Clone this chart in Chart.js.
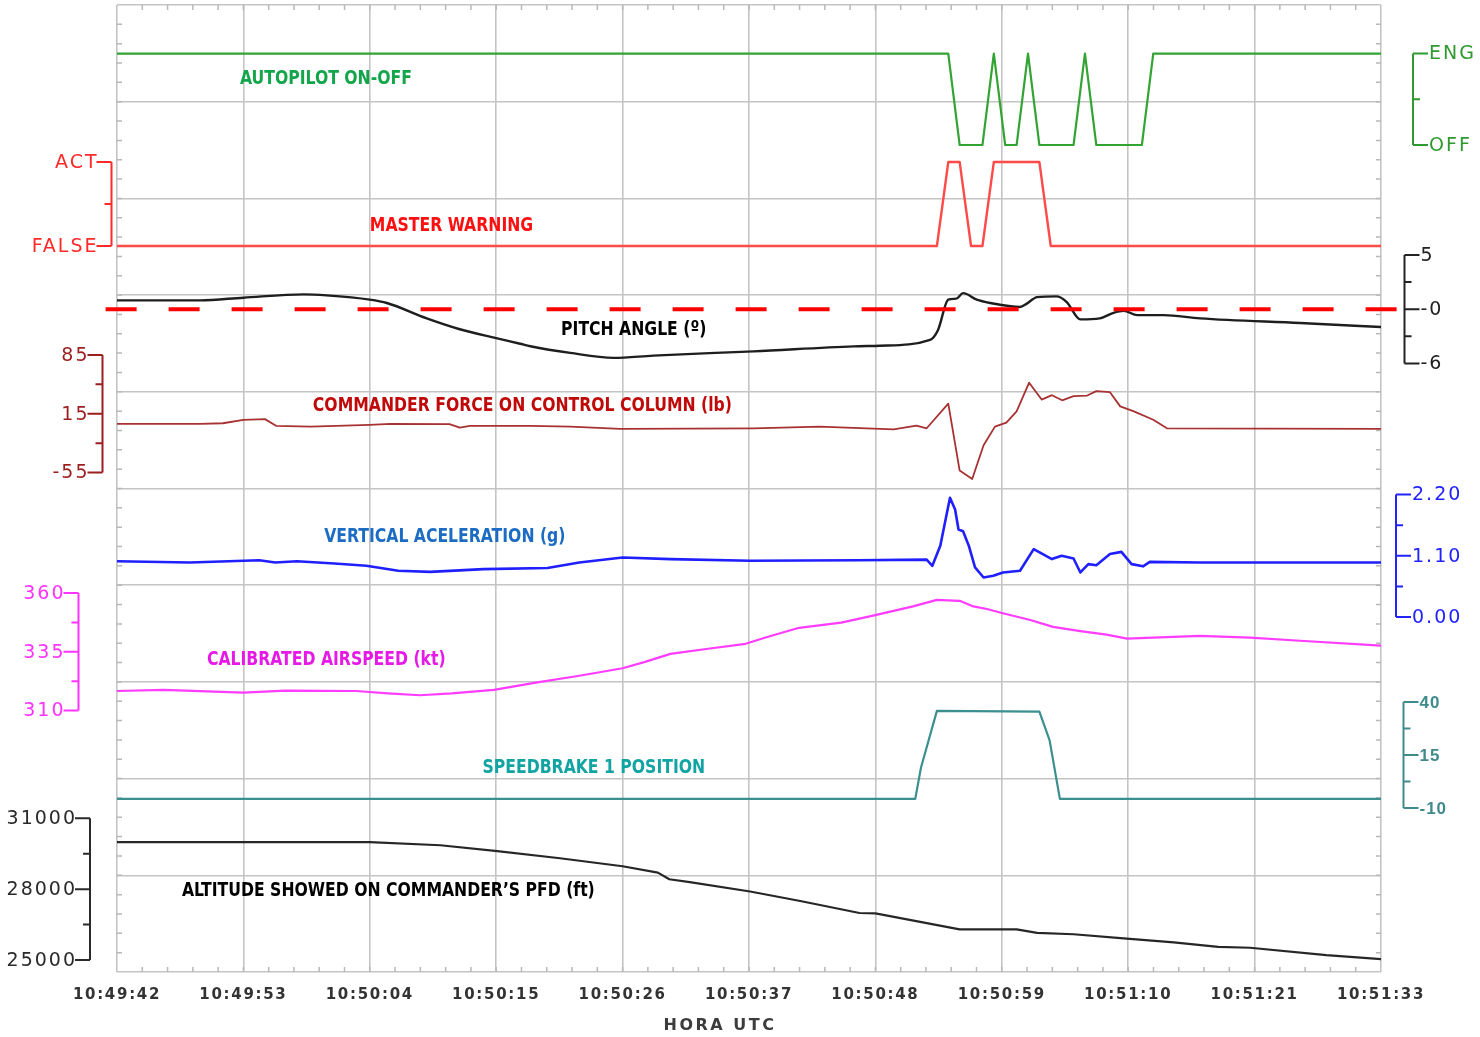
<!DOCTYPE html>
<html>
<head>
<meta charset="utf-8">
<title>Flight data</title>
<script src="https://cdn.jsdelivr.net/npm/chart.js@4.4.1/dist/chart.umd.min.js"></script>
<style>
  html, body { margin: 0; padding: 0; background: #fff; }
  #chart { display: block; }
</style>
</head>
<body>
<canvas id="chart" width="1480" height="1037"></canvas>
<script>
// time axis: seconds after 10:49:42, one grid step = 11.1 s
const xTickLabels = ['10:49:42', '10:49:53', '10:50:04', '10:50:15', '10:50:26', '10:50:37',
  '10:50:48', '10:50:59', '10:51:10', '10:51:21', '10:51:33'];
const gridStepSec = 11.1;

// autopilot: 1 = ENG, 0 = OFF
const autopilotSec = [0, 73, 74, 76, 77, 78, 79, 80, 81, 84, 85, 86, 90, 91, 111];
const autopilotVal = [1, 1, 0, 0, 1, 0, 0, 1, 0, 0, 1, 0, 0, 1, 1];

// master warning: 1 = ACT, 0 = FALSE
const warningSec = [0, 72, 73, 74, 75, 76, 77, 81, 82, 111];
const warningVal = [0, 0, 1, 1, 0, 0, 1, 1, 0, 0];

// pitch angle (deg)
const pitchSec = [0, 7.3, 11.1, 16.4, 18.4, 22.2, 23.7, 27.2, 30.1, 33.3, 35.4, 36.3, 39.8, 43.6, 47.1,
  55.9, 64.7, 67.0, 71.4, 72.1, 73.0, 73.7, 74.3, 75.5, 76.7, 79.3, 79.9, 80.8, 82.5, 83.4, 84.6,
  86.3, 87.5, 88.4, 89.6, 91.9, 95.1, 103.9, 111];
const pitchVal = [0.4, 0.4, 0.67, 1.0, 0.9, 0.47, 0.13, -1.43, -2.53, -3.43, -4.0, -4.25, -4.93, -5.43, -5.2,
  -4.77, -4.27, -4.2, -3.6, -2.6, 0.47, 0.57, 1.13, 0.47, 0.13, -0.27, 0.07, 0.73, 0.8, 0.23, -1.53,
  -1.43, -0.87, -0.67, -1.1, -1.1, -1.43, -1.9, -2.3];
const pitchRef = -0.5; // dashed reference, shown as "-0" on the scale

// commander force on control column (lb)
const forceSec = [0, 7.3, 9.3, 11.1, 13.0, 14.0, 17.0, 22.2, 24.0, 29.2, 30.1, 31.0, 36.3, 39.8, 44.2,
  55.9, 61.7, 68.2, 70.2, 71.1, 73.0, 74.0, 75.1, 76.1, 77.1, 78.1, 79.0, 80.1, 81.2, 82.1,
  83.0, 84.0, 85.2, 86.0, 87.2, 88.1, 89.3, 91.0, 92.2, 111];
const forceVal = [2.9, 2.9, 3.7, 7.7, 8.6, 0.5, -0.3, 1.7, 2.9, 2.6, -1.5, 0.5, 0.5, -0.3, -3.1,
  -2.3, -0.3, -3.5, 0.9, -2.3, 27.1, -52.6, -62.6, -22.4, -0.3, 4.5, 17.8, 52, 31.9, 37.1,
  31.0, 35.9, 36.7, 41.9, 40.7, 23.8, 17.8, 7.8, -2.3, -3.1];

// vertical acceleration (g)
const accelSec = [0, 6.4, 12.5, 13.9, 15.8, 19.1, 21.9, 24.7, 27.5, 32.2, 37.8, 40.6, 44.4, 48.6, 55.6,
  65.0, 71.1, 71.6, 72.3, 73.15, 73.6, 73.9, 74.3, 74.8, 75.35, 76.1, 76.95, 77.8, 79.3, 80.5,
  81.3, 82.1, 82.96, 84.0, 84.6, 85.3, 86.0, 87.2, 88.2, 89.1, 90.1, 90.7, 95.1, 111];
const accelVal = [1.0, 0.98, 1.02, 0.98, 1.0, 0.96, 0.92, 0.83, 0.81, 0.86, 0.88, 0.98, 1.07, 1.04, 1.01,
  1.02, 1.03, 0.92, 1.28, 2.14, 1.93, 1.57, 1.54, 1.28, 0.89, 0.71, 0.74, 0.8, 0.83, 1.22,
  1.13, 1.04, 1.1, 1.05, 0.8, 0.95, 0.93, 1.13, 1.17, 0.95, 0.91, 0.99, 0.98, 0.98];

// calibrated airspeed (kt)
const casSec = [0, 4.1, 11.1, 14.8, 21.0, 23.8, 26.6, 29.4, 33.1, 36.9, 40.6, 44.4, 46.3, 48.6, 51.9,
  55.2, 57.1, 59.9, 63.6, 66.4, 69.9, 72.0, 74.0, 75.2, 76.4, 77.8, 80.2, 82.2, 84.6, 86.9,
  88.7, 90.4, 95.1, 99.5, 103.9, 111];
const casVal = [318.3, 318.8, 317.6, 318.5, 318.3, 317.3, 316.5, 317.3, 318.8, 322, 324.8, 328, 330.6, 334.1, 336.3,
  338.4, 341.3, 345.2, 347.4, 350.4, 354.3, 357.1, 356.7, 354.3, 353.2, 351.4, 348.5, 345.6, 343.8, 342.3,
  340.6, 340.9, 341.8, 341.0, 339.7, 337.6];

// speedbrake 1 position
const brakeSec = [0, 70.1, 70.6, 72.0, 81.0, 81.9, 82.8, 111];
const brakeVal = [-5.7, -5.7, 9, 35.8, 35.5, 21.9, -5.7, -5.7];

// altitude on commander PFD (ft)
const altSec = [0, 22.2, 28.4, 33.4, 38.9, 44.4, 47.5, 48.5, 50.3, 55.6, 60.0, 65.2, 66.6, 74.0, 79.0,
  80.8, 84.0, 88.4, 92.8, 96.7, 99.5, 106.2, 111];
const altVal = [29990, 29990, 29860, 29610, 29310, 28970, 28700, 28420, 28300, 27900, 27500, 26990, 26975, 26300, 26300,
  26150, 26090, 25920, 25750, 25560, 25520, 25210, 25040];

const pts = (xs, ys) => xs.map((x, i) => ({ x: x, y: ys[i] }));

// place a value range inside a horizontal band of the plot (fractions from the top)
function band(hi, lo, fHi, fLo) {
  const per = (hi - lo) / (fLo - fHi);
  return { display: false, min: lo - (1 - fLo) * per, max: hi + fHi * per };
}

// side scales drawn as brackets
const brackets = [
  { axis: 'yAP', side: 'right', dx: 32, major: [1, 0], labels: ['ENG', 'OFF'], minor: [0.5], color: '#2f9a2f' },
  { axis: 'yMW', side: 'left', dx: -5.5, major: [1, 0], labels: ['ACT', 'FALSE'], minor: [0.5], color: '#ff2a2a' },
  { axis: 'yPitch', side: 'right', dx: 23.5, major: [5, pitchRef, -6], labels: ['5', '-0', '-6'], minor: [2.25, -3.25], color: '#222222' },
  { axis: 'yForce', side: 'left', dx: -14.5, major: [85, 15, -55], labels: ['85', '15', '-55'], minor: [50, -20], color: '#9c1f1f' },
  { axis: 'yAcc', side: 'right', dx: 15, major: [2.2, 1.1, 0], labels: ['2.20', '1.10', '0.00'], minor: [1.65, 0.55], color: '#2222ff' },
  { axis: 'yCas', side: 'left', dx: -38.5, major: [360, 335, 310], labels: ['360', '335', '310'], minor: [347.5, 322.5], color: '#ff33ff' },
  { axis: 'ySB', side: 'right', dx: 22.5, major: [40, 15, -10], labels: ['40', '15', '-10'], minor: [27.5, 2.5], color: '#3f8a8a', bold: true },
  { axis: 'yAlt', side: 'left', dx: -27, major: [31000, 28000, 25000], labels: ['31000', '28000', '25000'], minor: [29500, 26500], color: '#2a2a2a' }
];

// series captions: anchored at (seconds, value on its own scale)
const captions = [
  { text: 'AUTOPILOT ON-OFF', axis: 'yAP', x: 10.8, y: 0.667, color: '#12a54a' },
  { text: 'MASTER WARNING', axis: 'yMW', x: 22.2, y: 0.179, color: '#ff1010' },
  { text: 'PITCH ANGLE (º)', axis: 'yPitch', x: 39.0, y: -3.11, color: '#000000' },
  { text: 'COMMANDER FORCE ON CONTROL COLUMN (lb)', axis: 'yForce', x: 17.2, y: 18.3, color: '#c00a0a' },
  { text: 'VERTICAL ACELERATION (g)', axis: 'yAcc', x: 18.2, y: 1.347, color: '#1c6cc4' },
  { text: 'CALIBRATED AIRSPEED (kt)', axis: 'yCas', x: 7.9, y: 329.4, color: '#e619e6' },
  { text: 'SPEEDBRAKE 1 POSITION', axis: 'ySB', x: 32.1, y: 6.5, color: '#12a3a3' },
  { text: 'ALTITUDE SHOWED ON COMMANDER’S PFD (ft)', axis: 'yAlt', x: 5.7, y: 27710, color: '#000000' }
];

const captionFont = 'bold 20px "Liberation Sans Narrow", "DejaVu Sans Condensed", "Liberation Sans", sans-serif';
const bracketFont = '19px "DejaVu Sans", Verdana, sans-serif';

const decorations = {
  id: 'decorations',
  beforeDraw(chart) {
    chart.ctx.letterSpacing = '1.7px'; // spaced time labels
  },
  beforeDatasetsDraw(chart) {
    const ctx = chart.ctx;
    ctx.letterSpacing = '0px';
    const a = chart.chartArea, xs = chart.scales.x, ys = chart.scales.y;
    ctx.save();
    ctx.strokeStyle = '#b8b8b8';
    ctx.lineWidth = 1.5;
    ctx.beginPath();
    for (let k = 1; k < 50; k++) {
      const px = xs.getPixelForValue(k * gridStepSec / 5);
      ctx.moveTo(px, a.top); ctx.lineTo(px, a.top + 5);
      ctx.moveTo(px, a.bottom); ctx.lineTo(px, a.bottom - 5);
    }
    for (let k = 1; k < 50; k++) {
      const py = ys.getPixelForValue(k / 5);
      ctx.moveTo(a.left, py); ctx.lineTo(a.left + 5, py);
      ctx.moveTo(a.right, py); ctx.lineTo(a.right - 5, py);
    }
    ctx.stroke();
    ctx.restore();
  },
  afterDraw(chart) {
    const ctx = chart.ctx, a = chart.chartArea, xs = chart.scales.x;
    ctx.save();
    // brackets
    brackets.forEach(b => {
      const sc = chart.scales[b.axis];
      const lx = (b.side === 'left' ? a.left : a.right) + b.dx;
      const dir = b.side === 'left' ? -1 : 1;
      const top = sc.getPixelForValue(b.major[0]);
      const bot = sc.getPixelForValue(b.major[b.major.length - 1]);
      ctx.strokeStyle = b.color;
      ctx.lineWidth = 2;
      ctx.beginPath();
      ctx.moveTo(lx, top); ctx.lineTo(lx, bot);
      b.major.forEach(v => {
        const py = sc.getPixelForValue(v);
        ctx.moveTo(lx, py); ctx.lineTo(lx + dir * 15, py);
      });
      b.minor.forEach(v => {
        const py = sc.getPixelForValue(v);
        ctx.moveTo(lx, py); ctx.lineTo(lx + dir * 7, py);
      });
      ctx.stroke();
      ctx.fillStyle = b.color;
      ctx.font = b.bold ? 'bold 17px "Liberation Sans", Arial, sans-serif' : bracketFont;
      ctx.letterSpacing = b.bold ? '1px' : '2px';
      ctx.textBaseline = 'middle';
      ctx.textAlign = b.side === 'left' ? 'right' : 'left';
      b.major.forEach((v, i) => {
        const py = sc.getPixelForValue(v);
        ctx.fillText(b.labels[i], lx + dir * 15 + (b.side === 'left' ? 2 : 1), py + 1);
      });
    });
    // captions
    ctx.letterSpacing = '0px';
    ctx.font = captionFont;
    ctx.textAlign = 'left';
    ctx.textBaseline = 'alphabetic';
    const k = 419 / ctx.measureText(captions[3].text).width;
    captions.forEach(c => {
      const px = xs.getPixelForValue(c.x);
      const py = chart.scales[c.axis].getPixelForValue(c.y);
      ctx.save();
      ctx.translate(px, py);
      ctx.scale(k, 1);
      ctx.fillStyle = c.color;
      ctx.fillText(c.text, 0, 0);
      ctx.restore();
    });
    // axis title
    ctx.font = 'bold 16px "DejaVu Sans", Verdana, sans-serif';
    ctx.letterSpacing = '2.5px';
    ctx.fillStyle = '#3c3c3c';
    ctx.textAlign = 'center';
    ctx.textBaseline = 'middle';
    ctx.fillText('HORA UTC', 720, 1026);
    ctx.restore();
  }
};

const line = (label, data, axis, color, width, extra) => Object.assign({
  label: label, data: data, yAxisID: axis, borderColor: color, borderWidth: width,
  pointRadius: 0, tension: 0, fill: false, borderJoinStyle: 'round'
}, extra || {});

new Chart(document.getElementById('chart'), {
  type: 'line',
  data: {
    datasets: [
      line('Pitch reference', [{ x: -1.0, y: pitchRef }, { x: 112.7, y: pitchRef }], 'yPitch', '#ff0000', 4,
        { borderDash: [31, 32], clip: false, order: -1, borderJoinStyle: 'miter' }),
      line('Autopilot', pts(autopilotSec, autopilotVal), 'yAP', '#33a333', 2.2),
      line('Master warning', pts(warningSec, warningVal), 'yMW', '#ff4a4a', 2.4),
      line('Pitch', pts(pitchSec, pitchVal), 'yPitch', '#1e1e1e', 2.4, { cubicInterpolationMode: 'monotone' }),
      line('Force', pts(forceSec, forceVal), 'yForce', '#a83232', 1.8),
      line('Vertical acceleration', pts(accelSec, accelVal), 'yAcc', '#1f1fff', 2.6),
      line('Airspeed', pts(casSec, casVal), 'yCas', '#ff3cff', 2.2),
      line('Speedbrake', pts(brakeSec, brakeVal), 'ySB', '#3b8f8f', 2.2),
      line('Altitude', pts(altSec, altVal), 'yAlt', '#262626', 2.2)
    ]
  },
  options: {
    responsive: false,
    animation: false,
    devicePixelRatio: 1,
    layout: { padding: { left: 117, right: 99, top: 5, bottom: 0 } },
    plugins: { legend: { display: false }, tooltip: { enabled: false } },
    scales: {
      x: {
        type: 'linear', min: 0, max: 111,
        afterBuildTicks: s => { s.ticks = xTickLabels.map((_, i) => ({ value: i * gridStepSec })); },
        afterFit: s => { s.height = 65; },
        ticks: {
          callback: (v, i) => xTickLabels[i],
          color: '#333333', padding: 14, maxRotation: 0, autoSkip: false,
          font: { family: '"DejaVu Sans", Verdana, sans-serif', size: 15, weight: 'bold' }
        },
        grid: { color: '#c4c4c4', lineWidth: 1.6, drawTicks: false },
        border: { display: false }
      },
      y: {
        position: 'left', min: 0, max: 10,
        afterBuildTicks: s => { s.ticks = xTickLabels.map((_, i) => ({ value: i })); },
        afterFit: s => { s.width = 0; },
        ticks: { display: false },
        grid: { color: '#c4c4c4', lineWidth: 1.6, drawTicks: false },
        border: { display: false }
      },
      yAP: band(1, 0, 0.0502, 0.1448),
      yMW: band(1, 0, 0.1624, 0.2492),
      yPitch: band(5, -6, 0.2585, 0.3707),
      yForce: band(85, -55, 0.3619, 0.4835),
      yAcc: band(2.2, 0, 0.5062, 0.6329),
      yCas: band(360, 310, 0.6081, 0.7296),
      ySB: band(40, -10, 0.7208, 0.8304),
      yAlt: band(31000, 25000, 0.8411, 0.9876)
    }
  },
  plugins: [decorations]
});
</script>
</body>
</html>
